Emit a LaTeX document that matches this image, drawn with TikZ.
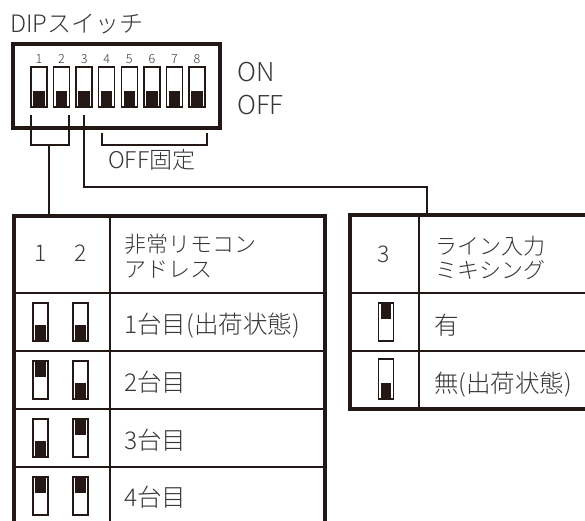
\documentclass[tikz,border=0pt]{standalone}
\usepackage{fontspec}
\IfFontExistsTF{Noto Sans CJK JP Light}
  {\setmainfont{Noto Sans CJK JP Light}}
  {\setmainfont{Noto Sans CJK JP}}
\definecolor{ink}{HTML}{231815}
\definecolor{txt}{HTML}{3A3536}
\tikzset{
  slot/.style={draw=ink, line width=1.5pt, fill=white, inner sep=0pt},
  conn/.style={draw=ink, line width=2pt},
  thin/.style={draw=ink, line width=2pt},
  thick/.style={draw=ink, line width=4pt},
  lbl/.style={text=txt, inner sep=0pt, anchor=base west},
  fsmall/.style={font=\fontsize{12.5}{14}\selectfont},
  fhead/.style={font=\fontsize{22}{26}\selectfont},
  ftitle/.style={font=\fontsize{24}{28}\selectfont},
  fonoff/.style={font=\fontsize{26}{30}\selectfont},
  fmid/.style={font=\fontsize{23}{27}\selectfont},
  fbig/.style={font=\fontsize{24.5}{28}\selectfont},
}
% #1 name, #2 position, #3 width, #4 height, #5 1 = knob up (ON), 0 = knob down (OFF)
\newcommand\swbox[5]{%
  \node[slot, minimum width=#3pt, minimum height=#4pt] (#1) at (#2) {};
  \ifnum#5=1
    \fill[ink] ([xshift=3pt,yshift=-2pt]#1.north west) rectangle ([xshift=-3pt,yshift=-17pt]#1.north east);
  \else
    \fill[ink] ([xshift=3pt,yshift=2pt]#1.south west) rectangle ([xshift=-3pt,yshift=17pt]#1.south east);
  \fi
}
\begin{document}
\begin{tikzpicture}[x=1pt,y=-1pt]
\useasboundingbox (0,0) rectangle (585,520);
\clip (0,0) rectangle (585,520);

% title
\node[lbl, ftitle] (title) at (10,32) {DIPスイッチ};

% DIP switch body
\node[thick, minimum width=207pt, minimum height=84pt, inner sep=0pt] (dip) at (116.5,86) {};
\foreach \i in {1,...,8} {
  \pgfmathsetmacro\cx{39+22.57*(\i-1)}
  \swbox{s\i}{\cx,87}{16}{40}{0}
  \node[text=txt, inner sep=0pt, anchor=base, fsmall] (n\i) at (\cx,63.5) {\i};
}
\node[lbl, fonoff] (on) at (237,81) {ON};
\node[lbl, fonoff] (off) at (237,114) {OFF};

% OFF fixed bracket
\coordinate (f1) at (101.5,133);
\coordinate (f2) at (207,133);
\draw[conn] (f1) -- (101.5,145) -- (207,145) -- (f2);
\node[lbl, fmid] (offfix) at (108,168) {OFF固定};

% bracket for switches 1-2 and connector to left table
\coordinate (b1) at (31,115);
\coordinate (b2) at (68.5,115);
\coordinate (bm) at (49,145);
\coordinate (Ltop) at (49,215.5);
\draw[conn] (b1) -- (31,145) -- (68.5,145) -- (b2);
\draw[conn] (bm) -- (Ltop);

% connector for switch 3 to right table
\coordinate (c3) at (84,115);
\coordinate (Rtop) at (427,215);
\draw[conn] (c3) -- (84,187) -- (427,187) -- (Rtop);

% left table
\foreach \yy in {293,351,409,467} \draw[thin] (14,\yy) -- (325,\yy);
\draw[thin] (110,215.5) -- (110,530);
\draw[thick] (14,530) -- (14,215.5) -- (325,215.5) -- (325,530);

% right table
\foreach \yy in {293,351} \draw[thin] (349.5,\yy) -- (600,\yy);
\draw[thin] (419,215) -- (419,408.5);
\draw[thick] (600,215) -- (349.5,215) -- (349.5,408.5) -- (600,408.5);

% left table header
\node[text=txt, inner sep=0pt, anchor=base, fmid] (h1) at (40.5,261) {1};
\node[text=txt, inner sep=0pt, anchor=base, fmid] (h2) at (80.5,261) {2};
\node[lbl, fhead] (hl1) at (124,252) {非常リモコン};
\node[lbl, fhead] (hl2) at (124,277) {アドレス};

% left table rows
\swbox{a1}{40.5,322}{15}{38}{0}
\swbox{a2}{80.5,322}{15}{38}{0}
\node[lbl, fbig] (r1) at (124,333) {1台目(出荷状態)};
\swbox{b1s}{40.5,380}{15}{38}{1}
\swbox{b2s}{80.5,380}{15}{38}{0}
\node[lbl, fbig] (r2) at (124,391) {2台目};
\swbox{c1s}{40.5,438}{15}{38}{0}
\swbox{c2s}{80.5,438}{15}{38}{1}
\node[lbl, fbig] (r3) at (124,449) {3台目};
\swbox{d1s}{40.5,496}{15}{38}{1}
\swbox{d2s}{80.5,496}{15}{38}{1}
\node[lbl, fbig] (r4) at (124,506) {4台目};

% right table header
\node[text=txt, inner sep=0pt, anchor=base, fmid] (h3) at (384,262) {3};
\node[lbl, fhead] (hr1) at (435,254) {ライン入力};
\node[lbl, fhead] (hr2) at (435,278) {ミキシング};

% right table rows
\swbox{e1}{386,322}{15}{38}{1}
\node[lbl, fbig] (q1) at (434,334) {有};
\swbox{e2}{386,379}{15}{40}{0}
\node[lbl, fbig] (q2) at (434,392) {無(出荷状態)};
\end{tikzpicture}
\end{document}
